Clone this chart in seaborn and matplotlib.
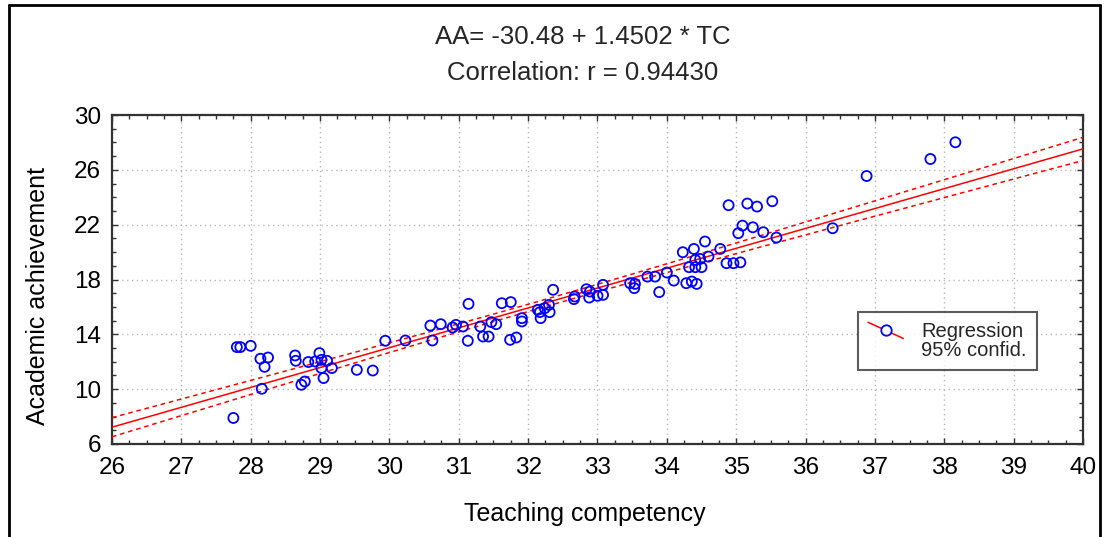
import numpy as np
import pandas as pd
import matplotlib
matplotlib.use("Agg")
import matplotlib.pyplot as plt
from matplotlib.lines import Line2D
from matplotlib.legend_handler import HandlerBase
from matplotlib.ticker import MultipleLocator
import seaborn as sns

# ---- data ----
teaching_competency = [
    27.75, 27.80, 27.85, 28.00, 28.14, 28.25, 28.20, 28.16, 28.64, 28.65,
    28.83, 28.99, 28.93, 29.02, 29.10, 29.02, 29.17, 29.05, 28.78, 28.73,
    29.53, 29.76, 29.94, 30.23, 30.62, 30.59, 30.74, 30.91, 30.96, 31.06,
    31.14, 31.13, 31.31, 31.35, 31.43, 31.47, 31.54, 31.62, 31.75, 31.74,
    31.83, 31.91, 31.91, 32.14, 32.17, 32.18, 32.31, 32.30, 32.24, 32.36,
    32.66, 32.67, 32.84, 32.89, 32.88, 33.00, 33.08, 33.08, 33.47, 33.53,
    33.54, 33.72, 33.83, 33.89, 34.00, 34.10, 34.28, 34.36, 34.43, 34.23,
    34.39, 34.55, 34.77, 34.32, 34.41, 34.50, 34.41, 34.48, 34.60, 34.86,
    34.96, 35.06, 35.03, 35.09, 35.24, 35.39, 35.58, 34.89, 35.16, 35.30,
    35.52, 36.39, 36.88, 37.80, 38.16,
]
academic_achievement = [
    7.90, 13.07, 13.07, 13.16, 12.22, 12.31, 11.63, 10.03, 12.46, 12.07,
    11.98, 12.63, 12.02, 12.14, 12.07, 11.54, 11.54, 10.81, 10.56, 10.32,
    11.41, 11.36, 13.53, 13.55, 13.55, 14.64, 14.74, 14.50, 14.69, 14.57,
    16.22, 13.53, 14.57, 13.84, 13.84, 14.89, 14.74, 16.27, 16.35, 13.60,
    13.77, 15.18, 14.94, 15.79, 15.62, 15.18, 15.62, 16.15, 15.91, 17.25,
    16.57, 16.76, 17.29, 17.12, 16.68, 16.81, 16.88, 17.61, 17.73, 17.37,
    17.68, 18.21, 18.21, 17.08, 18.51, 17.92, 17.73, 17.85, 17.68, 19.99,
    20.23, 20.77, 20.23, 18.90, 18.90, 18.90, 19.43, 19.50, 19.67, 19.19,
    19.19, 19.25, 21.38, 21.93, 21.81, 21.45, 21.06, 23.42, 23.54, 23.32,
    23.71, 21.74, 25.55, 26.79, 28.01,
]
intercept = -30.48
slope = 1.4502
corr_r = 0.94430
x_ticks = [26, 27, 28, 29, 30, 31, 32, 33, 34, 35, 36, 37, 38, 39, 40]
y_ticks = [6, 10, 14, 18, 22, 26, 30]

df = pd.DataFrame({"TC": teaching_competency, "AA": academic_achievement})

sns.set_theme(style="white")
plt.rcParams['font.family'] = ['Liberation Sans', 'DejaVu Sans']

fig = plt.figure(figsize=(11.08, 5.37), dpi=100)
ax = fig.add_axes([112/1108, 1-444/537, (1083-112)/1108, (444-115)/537])

# regression line and 95% confidence band
xs = np.array(teaching_competency)
ys = np.array(academic_achievement)
n = len(xs)
xm = xs.mean()
resid = ys - (intercept + slope * xs)
s = np.sqrt((resid ** 2).sum() / (n - 2))
sxx = ((xs - xm) ** 2).sum()
xg = np.linspace(x_ticks[0], x_ticks[-1], 200)
yg = intercept + slope * xg
half = 1.985 * s * np.sqrt(1 / n + (xg - xm) ** 2 / sxx)

ax.plot(xg, yg, color="#ff0000", lw=1.1, zorder=3)
ax.plot(xg, yg + half, color="#ff0000", lw=1.1, ls=(0, (3, 2.5)), zorder=3)
ax.plot(xg, yg - half, color="#ff0000", lw=1.1, ls=(0, (3, 2.5)), zorder=3)

sns.scatterplot(data=df, x="TC", y="AA", ax=ax, marker="o", s=52,
                facecolor="none", edgecolor="#0000ff", linewidth=1.3,
                zorder=4, legend=False)

ax.set_xlim(x_ticks[0], x_ticks[-1])
ax.set_ylim(y_ticks[0], y_ticks[-1])
ax.set_xticks(x_ticks)
ax.set_yticks(y_ticks)
ax.xaxis.set_minor_locator(MultipleLocator(0.25))
ax.yaxis.set_minor_locator(MultipleLocator(1))
ax.tick_params(axis="both", which="both", direction="in", top=True, right=True,
               bottom=True, left=True, colors="#333333", labelcolor="black",
               labelsize=17.5)
ax.tick_params(which="major", length=4, width=1)
ax.tick_params(which="minor", length=3, width=1)
ax.tick_params(axis="x", pad=9)
ax.tick_params(axis="y", pad=8)
ax.grid(True, which="major", color="#b8b8b8", ls=(0, (1, 2.5)), lw=1)
for sp in ax.spines.values():
    sp.set_color("#333333")
    sp.set_linewidth(1.6)

ax.set_xlabel("Teaching competency", fontsize=18, color="black")
ax.set_ylabel("Academic achievement", fontsize=18, color="black")
ax.xaxis.set_label_coords((585 - 112) / 971, -(514 - 444) / 329)
ax.yaxis.set_label_coords(-(112 - 38) / 971, (444 - 296) / 329)
ax.xaxis.label.set_va("center")
ax.yaxis.label.set_va("center")

fig.text(583/1108, 1-37/537, f"AA= {intercept:.2f} + {slope:.4f} * TC",
         ha="center", va="center", fontsize=18.5)
fig.text(583/1108, 1-73/537, f"Correlation: r = {corr_r:.5f}",
         ha="center", va="center", fontsize=18.5)


class DiagonalHandler(HandlerBase):
    def create_artists(self, legend, orig_handle, xdescent, ydescent,
                       width, height, fontsize, trans):
        x0, x1 = -xdescent, -xdescent + width
        y0, y1 = -ydescent + height * 1.05, -ydescent - height * 0.1
        line = Line2D([x0, x1], [y0, y1], color="#ff0000", lw=1.1,
                      transform=trans)
        mk = Line2D([(x0 + x1) / 2], [(y0 + y1) / 2], marker="o", markersize=7.5,
                    markerfacecolor="white", markeredgecolor="#0000ff",
                    markeredgewidth=1.3, linestyle="none", transform=trans)
        return [line, mk]


reg_handle = Line2D([], [], color="#ff0000")
blank_handle = Line2D([], [], color="none")
leg = ax.legend([reg_handle, blank_handle], ["Regression", "95% confid."],
                handler_map={reg_handle: DiagonalHandler()},
                loc="upper left",
                bbox_to_anchor=(858/1108, 1-312/537), bbox_transform=fig.transFigure,
                frameon=True, fancybox=False, shadow=False, fontsize=14.5,
                handlelength=1.75, handletextpad=0.9, borderpad=0.5,
                labelspacing=0.0, borderaxespad=0)
leg.get_frame().set_edgecolor("#333333")
leg.get_frame().set_linewidth(1.5)

# outer frame
fig.add_artist(Line2D([9/1108, 1100/1108], [1-5/537, 1-5/537], color="black",
                      lw=2, transform=fig.transFigure))
fig.add_artist(Line2D([9/1108, 9/1108], [1-5/537, 0], color="black",
                      lw=2, transform=fig.transFigure))
fig.add_artist(Line2D([1100/1108, 1100/1108], [1-5/537, 0], color="black",
                      lw=2, transform=fig.transFigure))

fig.savefig("out.png", dpi=100)
